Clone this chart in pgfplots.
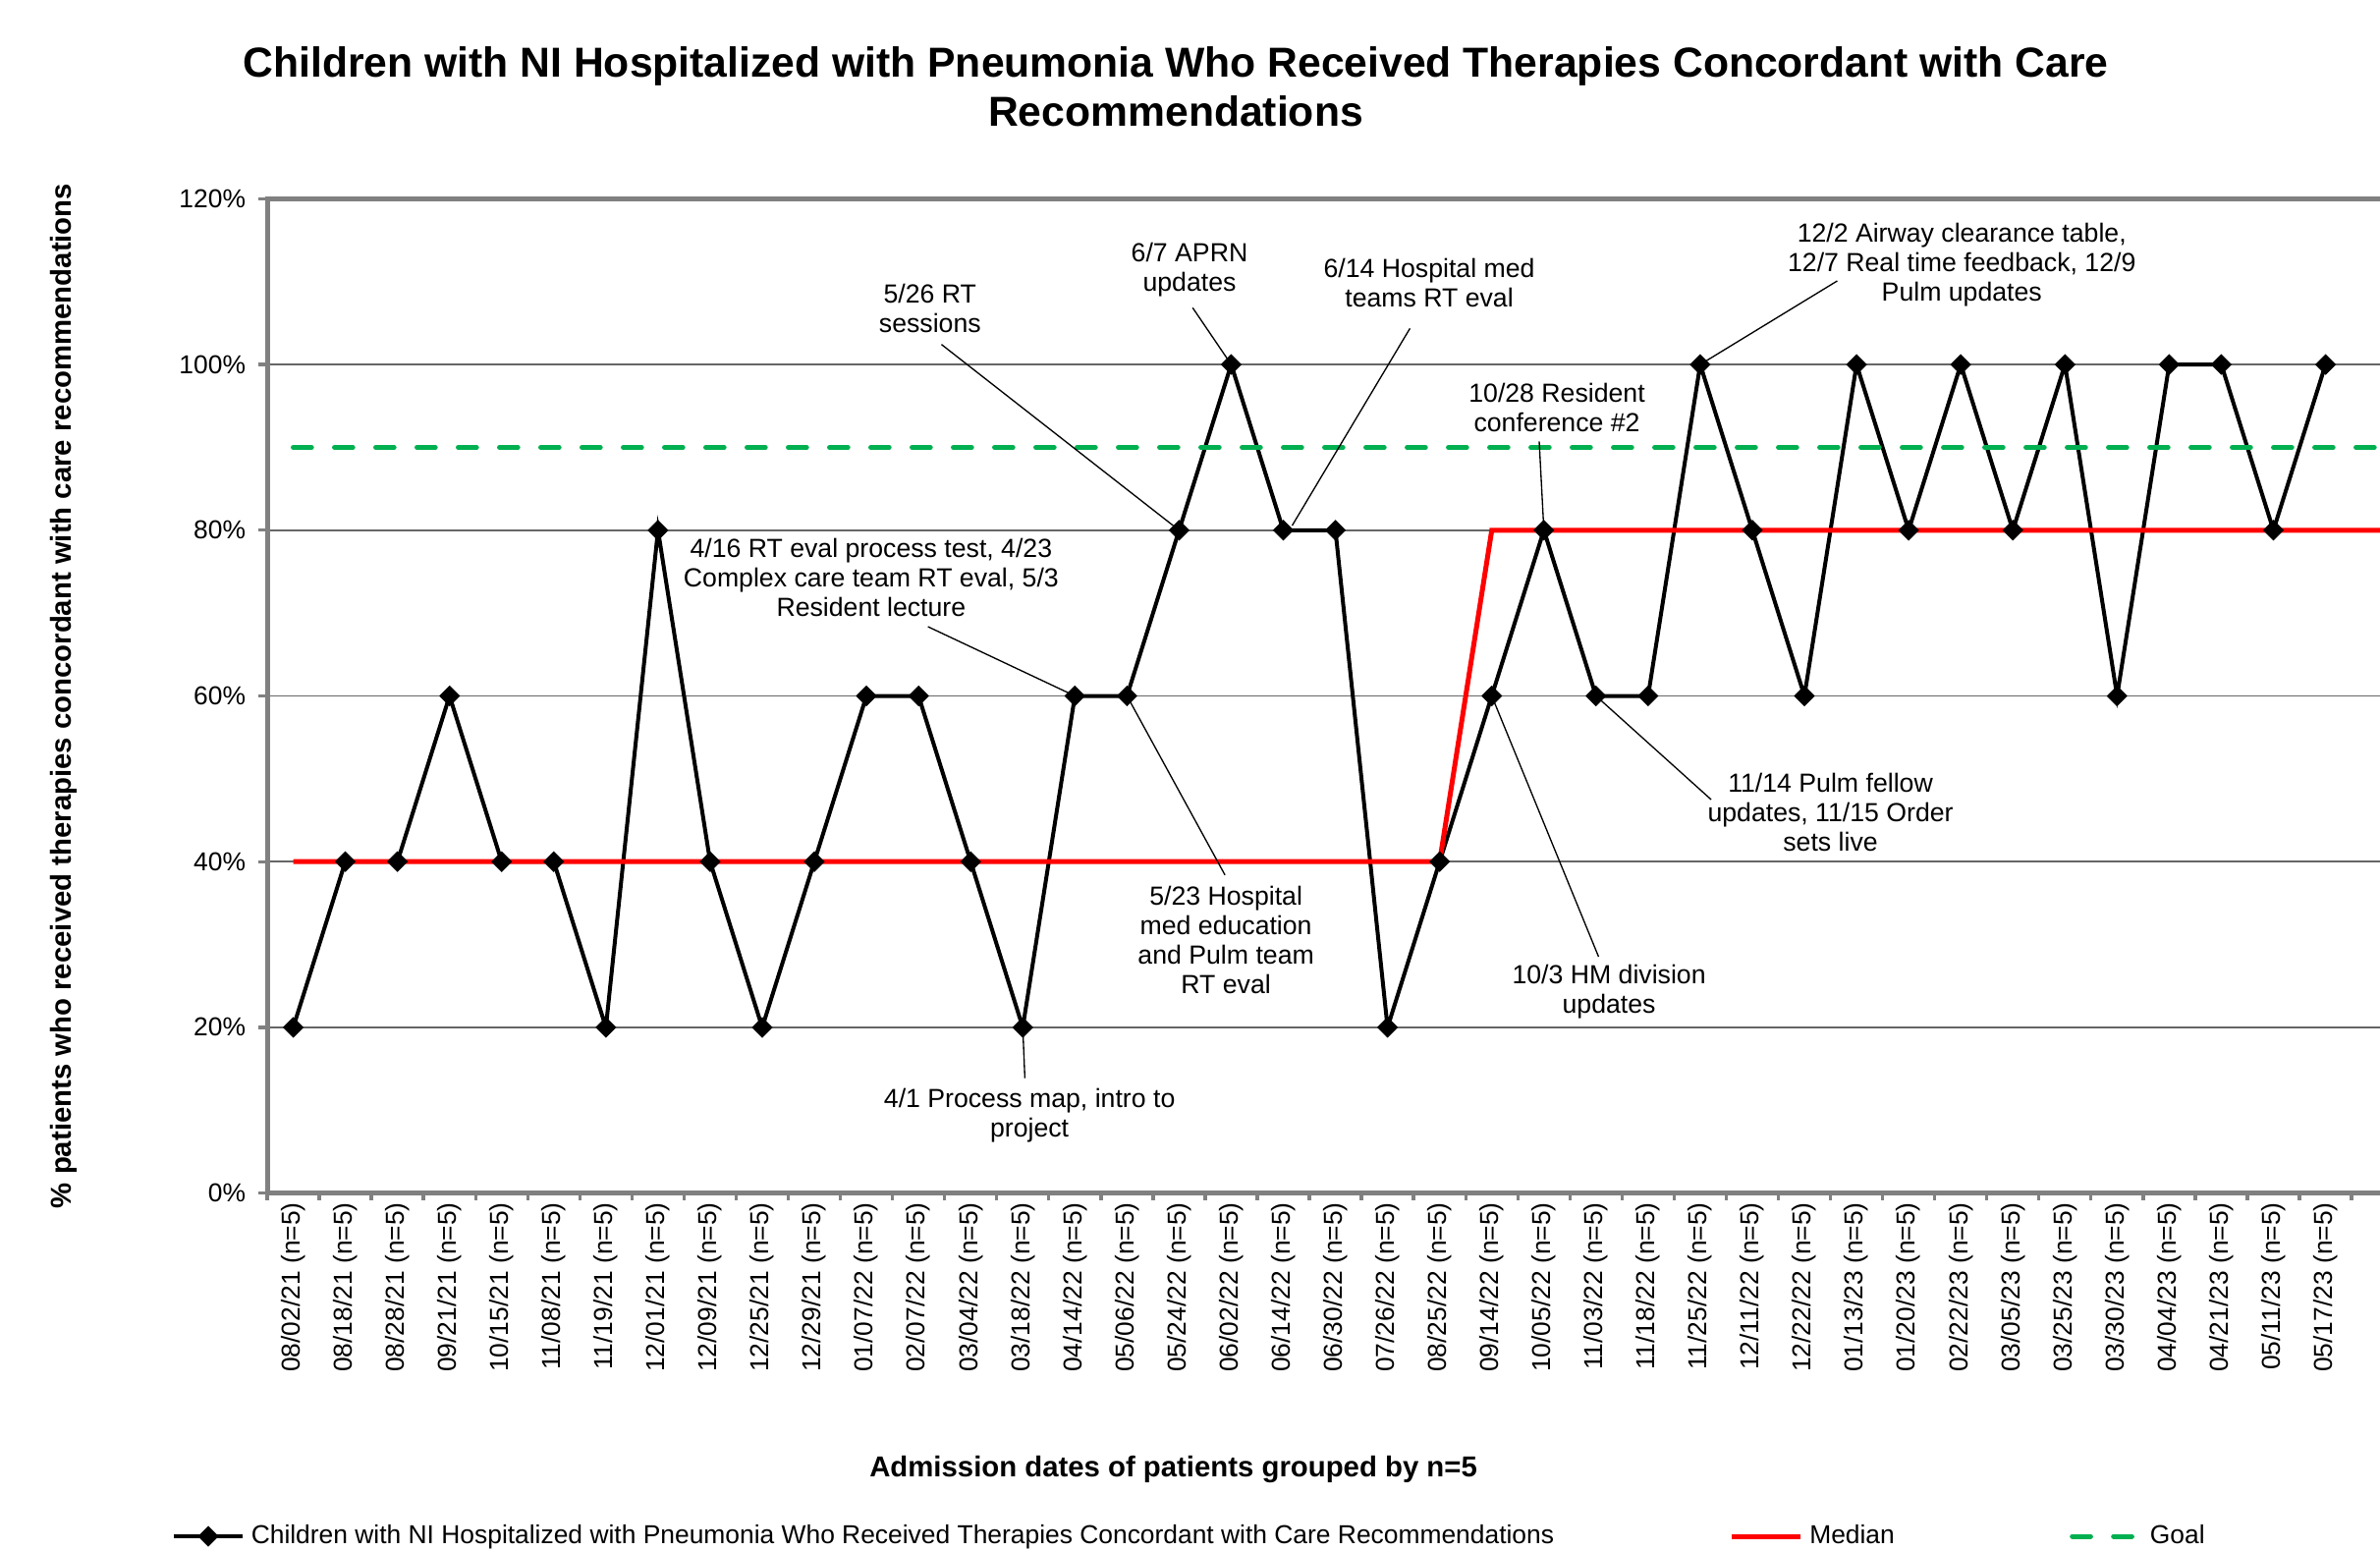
\documentclass[border=0pt]{standalone}
\usepackage{fontspec}
\setmainfont{Liberation Sans}
\usepackage{pgfplots}
\usepackage{pgfplotstable}
\pgfplotsset{compat=1.18}
\definecolor{goalgreen}{HTML}{00B050}
\definecolor{axgray}{HTML}{808080}
\newcommand{\sm}{\fontsize{7.92pt}{9pt}\selectfont}
\newcommand{\an}{\fontsize{8pt}{9pt}\selectfont}
\tikzset{
  ann/.style={font=\an, align=center, inner sep=0pt, anchor=center},
  ptr/.style={black, line width=0.4pt},
}

\pgfplotstableread{
x y
0 20
1 40
2 40
3 60
4 40
5 40
6 20
7 80
8 40
9 20
10 40
11 60
12 60
13 40
14 20
15 60
16 60
17 80
18 100
19 80
20 80
21 20
22 40
23 60
24 80
25 60
26 60
27 100
28 80
29 60
30 100
31 80
32 100
33 80
34 100
35 60
36 100
37 100
38 80
39 100
}\series

\pgfplotstableread{
x y
0 40
1 40
2 40
3 40
4 40
5 40
6 40
7 40
8 40
9 40
10 40
11 40
12 40
13 40
14 40
15 40
16 40
17 40
18 40
19 40
20 40
21 40
22 40
23 80
24 80
25 80
26 80
27 80
28 80
29 80
30 80
31 80
32 80
33 80
34 80
35 80
36 80
37 80
38 80
39 80
40 80
41 80
}\median

\pgfplotstableread{
x y
0 90
1 90
2 90
3 90
4 90
5 90
6 90
7 90
8 90
9 90
10 90
11 90
12 90
13 90
14 90
15 90
16 90
17 90
18 90
19 90
20 90
21 90
22 90
23 90
24 90
25 90
26 90
27 90
28 90
29 90
30 90
31 90
32 90
33 90
34 90
35 90
36 90
37 90
38 90
39 90
40 90
41 90
}\goal

\begin{document}
\begin{tikzpicture}
\begin{axis}[
  name=ax,
  scale only axis,
  width=650.3pt, height=303.66pt,
  xmin=-0.5, xmax=40.36,
  ymin=0, ymax=120,
  axis line style={axgray, line width=1.5pt},
  tick align=outside,
  tick pos=left,
  xtick={0,...,39},
  xticklabels={08/02/21 (n=5),08/18/21 (n=5),08/28/21 (n=5),09/21/21 (n=5),10/15/21 (n=5),11/08/21 (n=5),11/19/21 (n=5),12/01/21 (n=5),12/09/21 (n=5),12/25/21 (n=5),12/29/21 (n=5),01/07/22 (n=5),02/07/22 (n=5),03/04/22 (n=5),03/18/22 (n=5),04/14/22 (n=5),05/06/22 (n=5),05/24/22 (n=5),06/02/22 (n=5),06/14/22 (n=5),06/30/22 (n=5),07/26/22 (n=5),08/25/22 (n=5),09/14/22 (n=5),10/05/22 (n=5),11/03/22 (n=5),11/18/22 (n=5),11/25/22 (n=5),12/11/22 (n=5),12/22/22 (n=5),01/13/23 (n=5),01/20/23 (n=5),02/22/23 (n=5),03/05/23 (n=5),03/25/23 (n=5),03/30/23 (n=5),04/04/23 (n=5),04/21/23 (n=5),05/11/23 (n=5),05/17/23 (n=5)},
  minor xtick={-0.5,0.5,...,39.5},
  major x tick style={draw=none},
  minor x tick style={axgray, line width=1pt},
  minor tick length=2.1pt,
  ytick={0,20,...,120},
  yticklabels={0\%,20\%,40\%,60\%,80\%,100\%,120\%},
  y tick style={axgray, line width=1pt},
  major tick length=2.7pt,
  ymajorgrids,
  major grid style={black!60, line width=0.45pt},
  tick label style={font=\sm},
  xticklabel style={rotate=90, anchor=east, inner sep=0pt},
  yticklabel style={anchor=east, inner sep=0pt, xshift=-3.7pt},
  xlabel={Admission dates of patients grouped by n=5},
  xlabel style={at={(axis description cs:0.4256,-0.2779)}, anchor=center, font=\fontsize{8.8pt}{10pt}\selectfont\bfseries},
  ylabel={\% patients who received therapies concordant with care recommendations},
  ylabel style={at={(axis description cs:-0.0955,0.5)}, anchor=center, font=\fontsize{8.8pt}{10pt}\selectfont\bfseries},
  legend columns=3,
  legend style={at={(axis description cs:-0.0447,-0.3452)}, anchor=west, draw=none, fill=none, inner sep=0pt, outer sep=0pt, font=\sm, /tikz/every even column/.append style={column sep=51.5pt}},
  legend image code/.code={\draw[mark repeat=2,mark phase=2,#1] plot coordinates {(0pt,0pt) (10.5pt,0pt) (21pt,0pt)};},
]
\addplot[black, line width=1.2pt, mark=square*, mark size=2.1pt, mark options={solid, fill=black, rotate=45, line width=0.3pt}] table[x=x,y=y] {\series};
\addlegendentry{Children with NI Hospitalized with Pneumonia Who Received Therapies Concordant with Care Recommendations}
\addplot[red, line width=1.5pt] table[x=x,y=y] {\median};
\addlegendentry{Median}
\addplot[goalgreen, line width=1.5pt, dash pattern=on 5.6pt off 7pt, line cap=round] table[x=x,y=y] {\goal};
\addlegendentry{Goal}

\draw[ptr] (axis cs:12.18,68.36) -- (axis cs:15,60);
\node[ann] at (axis cs:11.09,74.27) {4/16 RT eval process test, 4/23\\Complex care team RT eval, 5/3\\Resident lecture};
\draw[ptr] (axis cs:17.88,38.39) -- (axis cs:16,60);
\node[ann] at (axis cs:17.90,30.55) {5/23 Hospital\\med education\\and Pulm team\\RT eval};
\draw[ptr] (axis cs:14.04,13.87) -- (axis cs:14,20);
\node[ann] at (axis cs:14.13,9.34) {4/1 Process map, intro to\\project};
\draw[ptr] (axis cs:12.44,102.42) -- (axis cs:17,80);
\node[ann] at (axis cs:12.22,106.81) {5/26 RT\\sessions};
\draw[ptr] (axis cs:17.26,106.85) -- (axis cs:18,100);
\node[ann] at (axis cs:17.20,111.43) {6/7 APRN\\updates};
\draw[ptr] (axis cs:21.43,104.36) -- (axis cs:19.17,80.57);
\node[ann] at (axis cs:21.80,109.82) {6/14 Hospital med\\teams RT eval};
\draw[ptr] (axis cs:23.91,90.73) -- (axis cs:24,80);
\node[ann] at (axis cs:24.25,94.83) {10/28 Resident\\conference \#2};
\draw[ptr] (axis cs:29.63,110.09) -- (axis cs:27,100);
\node[ann] at (axis cs:32.02,111.99) {12/2 Airway clearance table,\\12/7 Real time feedback, 12/9\\Pulm updates};
\draw[ptr] (axis cs:27.21,47.49) -- (axis cs:25,60);
\node[ann] at (axis cs:29.50,45.99) {11/14 Pulm fellow\\updates, 11/15 Order\\sets live};
\draw[ptr] (axis cs:25.05,28.52) -- (axis cs:23,60);
\node[ann] at (axis cs:25.25,24.29) {10/3 HM division\\updates};
\end{axis}
\node[font=\fontsize{12.8pt}{14.8pt}\selectfont\bfseries, align=center, anchor=center] at ([shift={(277.5pt,337.95pt)}]ax.south west) {Children with NI Hospitalized with Pneumonia Who Received Therapies Concordant with Care\\Recommendations};
\pgfresetboundingbox
\path ([shift={(-81.6pt,-109.02pt)}]ax.south west) rectangle ([shift={(645.3pt,364.38pt)}]ax.south west);
\end{tikzpicture}
\end{document}
